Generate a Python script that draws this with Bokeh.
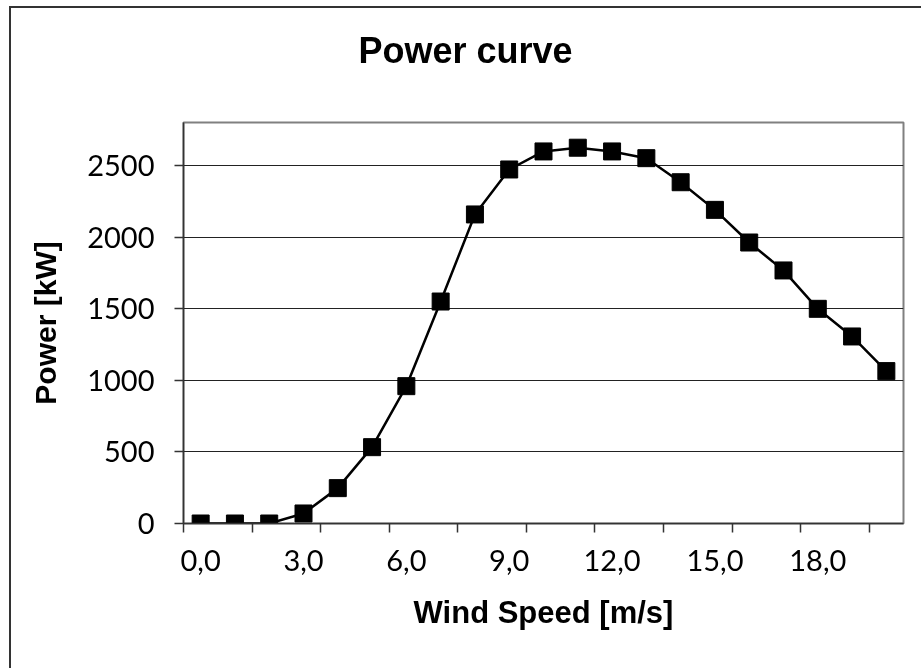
from bokeh.plotting import figure
from bokeh.models import Range1d, FixedTicker, Title
from bokeh.embed import file_html
from bokeh.resources import INLINE

# Data
wind_speed = [0, 1, 2, 3, 4, 5, 6, 7, 8, 9, 10, 11, 12, 13, 14, 15, 16, 17, 18, 19, 20]
power_kw = [0, 0, 0, 70, 247, 533, 959, 1550, 2158, 2472, 2598, 2624, 2598, 2551,
            2383, 2190, 1962, 1767, 1499, 1306, 1064]
x_label_positions = [0, 3, 6, 9, 12, 15, 18]
x_label_texts = ["0,0", "3,0", "6,0", "9,0", "12,0", "15,0", "18,0"]
x_tick_marks = [-0.5, 1.5, 3.5, 5.5, 7.5, 9.5, 11.5, 13.5, 15.5, 17.5, 19.5]
y_ticks = [0, 500, 1000, 1500, 2000, 2500]
chart_title = "Power curve"

p = figure(width=915, height=665, output_backend="svg", toolbar_location=None,
           title=None,
           x_range=Range1d(-0.5, 20.5), y_range=Range1d(0, 2800),
           min_border_left=172, min_border_right=23, min_border_top=114,
           min_border_bottom=150)

# Outer chart border: only the left and top edges show (the rest is cut off in the reference)
p.styles = {"position": "fixed", "left": "11px", "top": "8px", "margin": "0px",
            "box-shadow": "-2px -2px 0px 0px #333333"}

p.background_fill_color = "white"
p.border_fill_color = "white"
p.outline_line_color = "#808080"
p.outline_line_width = 2

# Title: a spacer next to the frame, then the real title above it
spacer = Title(text=" ", text_font_size="10px", standoff=39)
p.add_layout(spacer, "above")
main_title = Title(text=chart_title, text_color="black", text_font="Liberation Sans",
                   text_font_style="bold", text_font_size="36px", align="left",
                   offset=175, standoff=0)
p.add_layout(main_title, "above")

# X axis
xa = p.xaxis[0]
xa.ticker = FixedTicker(ticks=x_label_positions, minor_ticks=x_tick_marks)
xa.major_label_overrides = {pos: txt for pos, txt in zip(x_label_positions, x_label_texts)}
xa.major_tick_line_color = None
xa.minor_tick_line_color = "#333333"
xa.minor_tick_line_width = 1.5
xa.minor_tick_out = 9
xa.minor_tick_in = 0
xa.axis_line_color = "#333333"
xa.axis_line_width = 1.5
xa.major_label_text_font = "Lato"
xa.major_label_text_font_size = "29px"
xa.major_label_text_color = "black"
xa.major_label_standoff = 17
xa.axis_label = "Wind Speed [m/s]"
xa.axis_label_text_font = "Liberation Sans"
xa.axis_label_text_font_style = "bold"
xa.axis_label_text_font_size = "31px"
xa.axis_label_text_color = "black"
xa.axis_label_standoff = 21

# Y axis
ya = p.yaxis[0]
ya.ticker = FixedTicker(ticks=y_ticks)
ya.minor_tick_line_color = None
ya.major_tick_line_color = "#333333"
ya.major_tick_line_width = 1.5
ya.major_tick_out = 9
ya.major_tick_in = 0
ya.axis_line_color = "#333333"
ya.axis_line_width = 1.5
ya.major_label_text_font = "Lato"
ya.major_label_text_font_size = "29px"
ya.major_label_text_color = "black"
ya.major_label_standoff = 20
ya.axis_label = "Power [kW]"
ya.axis_label_text_font = "Liberation Sans"
ya.axis_label_text_font_style = "bold"
ya.axis_label_text_font_size = "30px"
ya.axis_label_text_color = "black"
ya.axis_label_standoff = 22

# Grid
p.xgrid.grid_line_color = None
p.ygrid.grid_line_color = "#222222"
p.ygrid.grid_line_width = 1

# Series
p.line(wind_speed, power_kw, line_color="black", line_width=2.5)
p.scatter(wind_speed, power_kw, marker="square", size=17, fill_color="black",
          line_color="black", line_width=1)

open("out.html", "w").write(file_html(p, INLINE))
